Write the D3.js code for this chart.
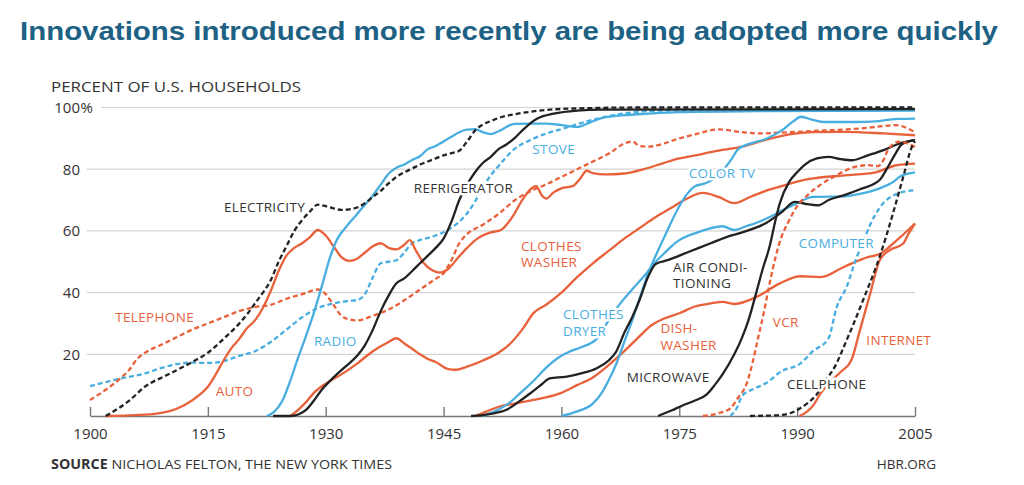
<!DOCTYPE html>
<html>
<head>
<meta charset="utf-8">
<script src="https://cdn.jsdelivr.net/npm/d3@7"></script>
<style>
  html, body { margin: 0; padding: 0; background: #fff; }
  svg { display: block; }
</style>
</head>
<body>
<svg id="chart" width="1024" height="485"></svg>
<script>
// ---------- DATA (year, percent of U.S. households) ----------
const yearTicks = [1900, 1915, 1930, 1945, 1960, 1975, 1990, 2005];
const pctTicks = [20, 40, 60, 80, 100];

const electricity = [[1902,0],[1905,5],[1907,9.5],[1910,13.5],[1913,17.5],[1915,20.5],[1917,25],[1919,30],[1920,33],[1921,36.5],[1922,40],[1923,44],[1924,50],[1925,55],[1926,60],[1927,63.5],[1928,66.3],[1929,68.5],[1930,68],[1931,67.3],[1932,66.8],[1933,67],[1934,67.6],[1935,69],[1936,71],[1937,73],[1938,75.4],[1939,77.5],[1940,79],[1941,80.2],[1942,81.5],[1943,82.5],[1944,83.5],[1945,84.5],[1946,85.2],[1947,86],[1948,89],[1949,92.5],[1950,94.5],[1951,95.6],[1952,96.6],[1954,97.8],[1956,98.6],[1958,99.2],[1962,99.7],[1970,100],[2005,100]];
const telephone = [[1900,5.2],[1902,8.5],[1904,12.5],[1905,15],[1906,18.5],[1907,20.5],[1909,23],[1911,25.5],[1913,28],[1915,30],[1917,32],[1919,34],[1921,35.3],[1923,36],[1925,38],[1927,39.5],[1929,41],[1930,39.5],[1931,36],[1932,32.5],[1933,31.3],[1934,31],[1936,32.5],[1938,34.5],[1940,37.5],[1942,41],[1944,44.5],[1945,46.3],[1946,50.5],[1947,56],[1948,59],[1950,62],[1952,65.5],[1954,69.8],[1956,72.8],[1958,75],[1960,77.5],[1962,80],[1964,82.5],[1966,85],[1968,88.3],[1969,89],[1970,87.5],[1971,87.3],[1973,88.3],[1975,90],[1977,91.3],[1980,92.9],[1983,92],[1985,91.6],[1989,92],[1993,92.5],[1997,93],[2000,93.7],[2002.5,94.3],[2005,92]];
const auto = [[1902,0],[1905,0.2],[1908,0.6],[1910,1.5],[1912,3.5],[1914,7],[1915,9.5],[1916,13.5],[1917,18],[1918,22],[1919,25],[1920,28.5],[1921,31],[1922,35],[1923,40.5],[1924,47],[1925,52],[1926,54.5],[1927,56],[1928,58],[1929,60.3],[1930,58.5],[1931,55],[1932,51.5],[1933,50.3],[1934,51],[1935,53],[1936,55],[1937,56],[1938,54.5],[1939,54],[1940,55.5],[1940.7,57],[1941.5,53.5],[1942.5,49.5],[1943.5,47.3],[1944.5,46.5],[1945.5,47.5],[1947,51.8],[1948,54.5],[1949.3,57.5],[1951,59.5],[1952.3,60.3],[1954,65.5],[1955,70],[1956.8,74.5],[1957.5,71.5],[1958.1,70.5],[1959,72.5],[1960,73.8],[1961.5,74.6],[1962.4,77],[1963.2,79.5],[1964,78.7],[1965.5,78.3],[1968,78.6],[1970.5,80],[1973,82],[1975,83.5],[1977,84.5],[1980,86],[1983,87.3],[1986,89.5],[1989,91.3],[1992,92],[1996,92.1],[2001,91.6],[2005,91]];
const radio = [[1922.5,0],[1923.5,1.5],[1924.5,5],[1925.5,11.5],[1926.5,19],[1927.5,26],[1928.5,33.5],[1929.5,42],[1930.5,51],[1931.5,57.5],[1932.5,61],[1934,65.5],[1935,68.5],[1936,71.5],[1937,75],[1938,78.5],[1939,80.5],[1940,81.5],[1941,83],[1942,84.2],[1943,86.5],[1944,87.5],[1945,89],[1946,90.5],[1947,92],[1948,92.8],[1949,93],[1950,92],[1951,91.4],[1952,92.3],[1954,94.7],[1956,94.8],[1958,94.8],[1960,94.3],[1962,93.7],[1963.5,95],[1965,96.5],[1968,97.5],[1971,98],[1975,98.5],[1985,98.8],[2005,99]];
const stove = [[1900,9.7],[1902,11],[1904,12.2],[1907,13.8],[1909,15.5],[1911,16.8],[1913,17.3],[1915,17.2],[1917,17.8],[1919,19.5],[1921,21],[1923,24],[1925,28],[1927,32],[1929,35],[1931,36.5],[1933,37.3],[1934,37.6],[1935,39.5],[1936,45],[1937,49.5],[1938,50],[1939,50.5],[1940,53],[1941,56],[1942,57],[1944,58.5],[1946,61],[1948,65.7],[1949,69.5],[1950,74],[1951,78],[1952,81],[1953,84],[1954,86.5],[1956,89.4],[1958,91.5],[1960,93],[1962,94.6],[1964,96],[1966,97.2],[1969,98.4],[1973,99],[2005,99.3]];
const refrigerator = [[1923.3,0],[1925.5,0],[1926.5,0.5],[1927.5,2],[1928.5,5],[1929.5,8.5],[1931,12.5],[1932.5,16],[1934,19.5],[1935,23],[1936,28],[1937,34],[1938,39],[1939,43],[1940,44.6],[1941,47],[1942,49.5],[1943,52],[1944,54.5],[1945,57.5],[1946,63],[1947,70],[1948,75],[1949,79],[1950,82],[1951,84],[1952,86.5],[1953,88],[1954,90],[1955,92.5],[1956,94.8],[1957,96.5],[1959,98],[1962,99],[1965,99.3],[2005,99.5]];
const clothesWasher = [[1925.5,0],[1926.5,2],[1927.5,4.5],[1928.5,7.5],[1930,10.5],[1932,13.5],[1934,17],[1936,21],[1938,24],[1939,25.2],[1940,23.5],[1941,21.8],[1942,20],[1943,18.5],[1944,17.5],[1945.5,15.3],[1946.5,15],[1948,16],[1950,18],[1952,20.5],[1953.5,23.5],[1955,28],[1956.5,33.5],[1958,36],[1960,40],[1962,45],[1964,49.5],[1966,53.5],[1968,57.5],[1970,61],[1972,64.5],[1974,67.5],[1976,70.5],[1978,72.3],[1980,71],[1982,69],[1984,71],[1986,73],[1988,74.5],[1990,76],[1992,77],[1996,78],[2000,79],[2002.5,81.2],[2005,81.8]];
const clothesDryer = [[1950,0],[1951.5,1.5],[1953.5,4.5],[1955,8],[1956.5,11.5],[1958,15.5],[1959.5,18.7],[1961,20.8],[1962.5,22.3],[1964.5,25],[1966,31],[1967.5,36.5],[1969,41],[1970.8,46.2],[1972,50],[1973,52.5],[1974,55],[1975,57],[1976,58.3],[1977,59.2],[1978.5,60.5],[1980.5,61.5],[1982,60.3],[1983.5,61.5],[1985,62.8],[1986.5,64.5],[1988,66.5],[1990,69],[1992,71],[1996,71.2],[1998,72],[2000.5,73.8],[2002,75.5],[2003.2,77.8],[2005,79]];
const colorTV = [[1960,0],[1962,1.5],[1964,4],[1965,7],[1966,11.5],[1967,17],[1968,24],[1969,31],[1970,38.5],[1971,46],[1972,52],[1973,57.5],[1974,63],[1975,68],[1976,72],[1977,74.5],[1978.3,75.4],[1979.5,77],[1980.5,79.5],[1981.5,82.7],[1982.5,86.5],[1984,88.3],[1986,89.8],[1988,92.5],[1989.5,95.5],[1990.5,97],[1992,96],[1993.5,95.3],[1997.5,95.3],[2000,95.5],[2001.5,96],[2003,96.3],[2005,96.4]];
const airConditioning = [[1948.5,0],[1951,0.7],[1953,2],[1954.5,4.5],[1956,7.3],[1957.5,10.3],[1958.5,12.2],[1960.5,12.7],[1962.5,13.8],[1964.5,15.5],[1966,18],[1967,21],[1968,27],[1969,32],[1970,38],[1971,45],[1972,49.3],[1973.5,50.5],[1976,53],[1979,56],[1981,58],[1983,59.5],[1986,62.5],[1988,66],[1989.7,69.4],[1991,68.8],[1992.7,68.3],[1994,70],[1996,71.6],[1998,73.5],[2000.5,76.5],[2001.5,80.5],[2002.5,85],[2003.3,88],[2005,89.4]];
const microwave = [[1972.3,0],[1974,1.8],[1975.5,3.5],[1977,5],[1978.5,7],[1979.5,10],[1980.5,13.5],[1982,20],[1983,25.5],[1983.8,31],[1984.8,40],[1985.6,47.5],[1986.5,55],[1987.2,63],[1987.8,69],[1989,76],[1990,79],[1991,81.5],[1992.5,83.5],[1994,84],[1995.5,83.3],[1997,82.9],[1999,84.5],[2001,86.2],[2003,88.3],[2005,89.4]];
const dishwasher = [[1949,0],[1950.5,1.5],[1952,3],[1954,4],[1956,5],[1958,6],[1960,7.5],[1962,10],[1964,12.5],[1966,16.5],[1968,21],[1970,26],[1971.5,29.5],[1973,31.5],[1975,33.3],[1977,35.5],[1979,36.5],[1980.5,37],[1982,36.3],[1985,38.8],[1987.8,43],[1990.4,45.3],[1993,45],[1996,48.4],[1999,51.5],[2000.5,52.5],[2002.7,57],[2005,62.4]];
const vcr = [[1978,0],[1980,0.9],[1981.5,2.5],[1982.5,6],[1983.5,10],[1984.3,17],[1985,25],[1985.8,34],[1986.5,43],[1987.3,52],[1988,58],[1988.8,62.5],[1990,68],[1991.5,72],[1993,75],[1995,78],[1997,80.5],[1999,81.3],[2000.3,81],[2001,83],[2001.6,86.5],[2003,88.9],[2005,87.2]];
const computer = [[1981.5,0],[1982.3,2.5],[1983,6.5],[1984.5,8.8],[1986,10.6],[1988,14.5],[1990.4,17],[1992,21],[1994,25.2],[1995,35],[1996.3,41.9],[1997.6,51.6],[1998.5,57],[1999.3,62],[2000.5,67.5],[2002.7,72],[2005,73.2]];
const cellphone = [[1984,0],[1986,0.1],[1987.8,0.3],[1989,0.8],[1990.4,2.5],[1991.5,4.5],[1992.5,7],[1993.5,11],[1994.8,16],[1996.3,24.6],[1997.2,30],[1998.4,37.6],[2000.5,51.6],[2002.2,65.7],[2003.5,77.5],[2004.6,87.2],[2005,89]];
const internet = [[1990.3,0],[1991.3,1.5],[1992.1,3.6],[1992.9,7],[1994,10.5],[1995.5,14.2],[1996.9,18.1],[1998,27.9],[1999.3,39.7],[2000.5,50.5],[2001.8,53.8],[2003.5,55.9],[2004.2,59.2],[2005,62.4]];

// ---------- STYLE / LAYOUT ----------
const ORANGE = "#e8613b", BLUE = "#48aee0", BLACK = "#222222";
const series = [
  { data: stove, color: BLUE, dashed: true },
  { data: telephone, color: ORANGE, dashed: true },
  { data: auto, color: ORANGE, dashed: false },
  { data: clothesWasher, color: ORANGE, dashed: false },
  { data: radio, color: BLUE, dashed: false },
  { data: refrigerator, color: BLACK, dashed: false },
  { data: electricity, color: BLACK, dashed: true },
  { data: dishwasher, color: ORANGE, dashed: false },
  { data: clothesDryer, color: BLUE, dashed: false },
  { data: colorTV, color: BLUE, dashed: false },
  { data: airConditioning, color: BLACK, dashed: false },
  { data: microwave, color: BLACK, dashed: false },
  { data: vcr, color: ORANGE, dashed: true },
  { data: computer, color: BLUE, dashed: true },
  { data: internet, color: ORANGE, dashed: false },
  { data: cellphone, color: BLACK, dashed: true }
];
// label anchors in data units [year, pct]
const labels = [
  { t: ["ELECTRICITY"], at: [1917.05, 66.1], color: "#333" },
  { t: ["TELEPHONE"], at: [1903.2, 30.5], color: ORANGE },
  { t: ["RADIO"], at: [1928.5, 22.7], color: BLUE },
  { t: ["AUTO"], at: [1916.0, 6.5], color: ORANGE },
  { t: ["REFRIGERATOR"], at: [1941.2, 72.3], color: "#333" },
  { t: ["STOVE"], at: [1956.3, 84.9], color: BLUE },
  { t: ["CLOTHES", "WASHER"], at: [1954.85, 53.5], color: ORANGE },
  { t: ["CLOTHES", "DRYER"], at: [1960.2, 31.4], color: BLUE },
  { t: ["COLOR TV"], at: [1976.2, 77.1], color: BLUE },
  { t: ["AIR CONDI-", "TIONING"], at: [1974.2, 46.7], color: "#333" },
  { t: ["COMPUTER"], at: [1990.2, 54.5], color: BLUE },
  { t: ["DISH-", "WASHER"], at: [1972.6, 26.9], color: ORANGE },
  { t: ["VCR"], at: [1986.9, 28.8], color: ORANGE },
  { t: ["INTERNET"], at: [1998.8, 23.0], color: ORANGE },
  { t: ["MICROWAVE"], at: [1968.3, 11.0], color: "#333" },
  { t: ["CELLPHONE"], at: [1988.7, 8.75], color: "#333" }
];

const svg = d3.select("#chart");
const FONT = "'Open Sans', 'DejaVu Sans', sans-serif";

const x = d3.scaleLinear().domain([1900, 2005]).range([90, 915]);
const y = d3.scaleLinear().domain([0, 100]).range([416, 107.5]);

// Title
svg.append("text")
  .attr("x", 20).attr("y", 40)
  .attr("font-family", "'Liberation Sans', Arial, sans-serif")
  .attr("font-weight", "bold").attr("font-size", 26.5)
  .attr("fill", "#1d6184")
  .attr("textLength", 978).attr("lengthAdjust", "spacingAndGlyphs")
  .text("Innovations introduced more recently are being adopted more quickly");

// Axis title
svg.append("text")
  .attr("x", 51).attr("y", 92)
  .attr("font-family", FONT).attr("font-size", 14)
  .attr("fill", "#333")
  .attr("textLength", 250).attr("lengthAdjust", "spacingAndGlyphs")
  .text("PERCENT OF U.S. HOUSEHOLDS");

// Gridlines
svg.append("g").selectAll("line").data(pctTicks).join("line")
  .attr("x1", d => d === 100 ? 101 : 87).attr("x2", x(2005))
  .attr("y1", d => y(d)).attr("y2", d => y(d))
  .attr("stroke", "#d4d4d4").attr("stroke-width", 1.2);

// Y labels
const yl = svg.append("g").attr("font-family", FONT).attr("font-size", 15).attr("fill", "#333");
yl.selectAll("text").data(pctTicks).join("text")
  .attr("x", 80).attr("y", d => y(d) + 5.5)
  .attr("text-anchor", "end")
  .text(d => d);
yl.append("text").attr("x", 80.5).attr("y", y(100) + 5.5).text("%");

// X axis
const xAxis = d3.axisBottom(x).tickValues(yearTicks).tickFormat(d3.format("d"))
  .tickSizeInner(-9).tickSizeOuter(0).tickPadding(12);
const ax = svg.append("g").attr("transform", `translate(0,${y(0)})`).call(xAxis);
ax.select(".domain").attr("stroke", "#777").attr("stroke-width", 1.6);
ax.selectAll(".tick line").attr("stroke", "#777").attr("stroke-width", 1.4);
ax.selectAll(".tick text").attr("font-family", FONT).attr("font-size", 15).attr("fill", "#333");

// Lines
const line = d3.line().x(d => x(d[0])).y(d => y(d[1])).curve(d3.curveMonotoneX);
svg.append("g").selectAll("path").data(series).join("path")
  .attr("d", d => line(d.data))
  .attr("fill", "none")
  .attr("stroke", d => d.color)
  .attr("stroke-width", 2.3)
  .attr("stroke-linejoin", "round")
  .attr("stroke-dasharray", d => d.dashed ? "5,3" : null);

// Labels
const lg = svg.append("g").attr("font-family", FONT).attr("font-size", 13.5).attr("letter-spacing", 0.35);
labels.forEach(l => {
  const t = lg.append("text")
    .attr("x", x(l.at[0])).attr("y", y(l.at[1]))
    .attr("fill", l.color)
    .attr("stroke", "#fff").attr("stroke-width", 5).attr("stroke-linejoin", "round")
    .attr("paint-order", "stroke");
  l.t.forEach((s, i) => {
    t.append("tspan").attr("x", x(l.at[0])).attr("dy", i === 0 ? 0 : 16.5).text(s);
  });
});

// Source & credit
const src = svg.append("text").attr("x", 51).attr("y", 469)
  .attr("font-family", FONT).attr("font-size", 13.5).attr("fill", "#333")
  .attr("textLength", 341).attr("lengthAdjust", "spacingAndGlyphs");
src.append("tspan").attr("font-weight", "bold").text("SOURCE");
src.append("tspan").text(" NICHOLAS FELTON, THE NEW YORK TIMES");

svg.append("text").attr("x", 936).attr("y", 469).attr("text-anchor", "end")
  .attr("font-family", FONT).attr("font-size", 13.5).attr("fill", "#333")
  .text("HBR.ORG");
</script>
</body>
</html>
